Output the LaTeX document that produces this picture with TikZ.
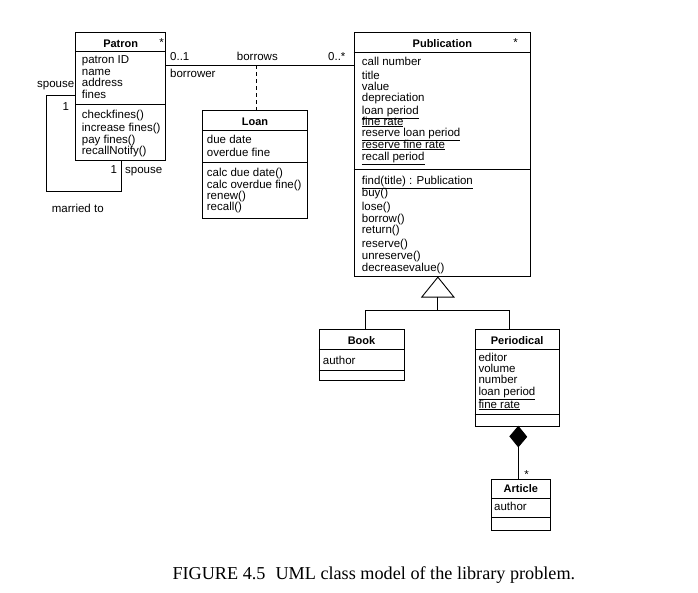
\documentclass[tikz,border=0pt]{standalone}
\usepackage{fontspec}
\setmainfont{Liberation Sans}
\newfontfamily\capfont{Liberation Serif}
\newcommand\umlfont{\fontsize{11.5}{12}\selectfont}
\newcommand\umlbold{\fontsize{11}{12}\selectfont\bfseries}
\begin{document}
\begin{tikzpicture}[x=1pt,y=-1pt,
  cls/.style={draw, line width=0.9pt, inner sep=0pt},
  conn/.style={line width=0.9pt},
  lbl/.style={anchor=base west, inner sep=0pt, font=\umlfont},
  hdr/.style={anchor=base, inner sep=0pt, font=\umlbold},
  mult/.style={anchor=base, inner sep=0pt, font=\umlfont}]
\useasboundingbox (0,0) rectangle (698,592);

% ---------- class boxes ----------
\node[cls, minimum width=90, minimum height=127.7] (patron) at (120.7,96.15) {};
\node[cls, minimum width=104.6, minimum height=107.6] (loan) at (255,164.5) {};
\node[cls, minimum width=176.7, minimum height=244.4] (pub) at (442.35,154.5) {};
\node[cls, minimum width=85, minimum height=51.4] (book) at (361.5,355) {};
\node[cls, minimum width=84.3, minimum height=96.7] (periodical) at (517.15,377.65) {};
\node[cls, minimum width=58.3, minimum height=51.7] (article) at (520.85,504.85) {};

% compartment separators
\foreach \b/\ya/\yb in {patron/51.7/104.3, loan/130/162.7, pub/52.3/169, book/349/370, periodical/349/414, article/498.3/517.7}{
  \coordinate (ha) at (0,\ya);
  \coordinate (hb) at (0,\yb);
  \draw[conn] (\b.west |- ha) -- (\b.east |- ha);
  \draw[conn] (\b.west |- hb) -- (\b.east |- hb);
}

% headers
\node[hdr] (hpatron) at (120.7,47.3) {Patron};
\node[hdr] (hloan) at (255,125.7) {Loan};
\node[hdr] (hpub) at (442.35,47.3) {Publication};
\node[hdr] (hbook) at (361.5,344) {Book};
\node[hdr] (hper) at (517.15,344) {Periodical};
\node[hdr] (hart) at (520.85,492.3) {Article};
\node[mult] (spa) at (161.7,46) {*};
\node[mult] (spb) at (515.7,46) {*};

% Patron
\foreach \y/\t [count=\i] in {59.3/patron ID, 71.5/name, 82.8/address, 94/fines}
  \node[lbl] (pa\i) at (81.7,\y+4) {\t};
\foreach \y/\t [count=\i] in {114.3/checkfines(), 127/increase fines(), 139/pay fines(), 150/recallNotify()}
  \node[lbl] (pm\i) at (81.7,\y+4) {\t};

% Loan
\foreach \y/\t [count=\i] in {139.3/due date, 152.3/overdue fine}
  \node[lbl] (la\i) at (206.7,\y+4) {\t};
\foreach \y/\t [count=\i] in {172.7/calc due date(), 184/calc overdue fine(), 195.7/renew(), 206.7/recall()}
  \node[lbl] (lm\i) at (206.7,\y+4) {\t};

% Publication
\foreach \y/\t [count=\i] in {61.7/call number, 75/title, 86/value, 97.3/depreciation,
  110/\underline{loan period}, 121/\underline{fine rate}, 132.3/\underline{reserve loan period},
  144/\underline{reserve fine rate}, 156/\underline{recall period}}
  \node[lbl] (ua\i) at (361.7,\y+4) {\t};
\foreach \y/\t [count=\i] in {180/\underline{find(title) : Publication}, 192.7/buy(), 206.7/lose(),
  218.3/borrow(), 229.3/return(), 243.3/reserve(), 255/unreserve(), 267.7/decreasevalue()}
  \node[lbl] (um\i) at (361.7,\y+4) {\t};

% Book
\node[lbl] (ba1) at (322.7,364) {author};

% Periodical
\foreach \y/\t [count=\i] in {357/editor, 368.3/volume, 379.5/number,
  391/\underline{loan period}, 404/\underline{fine rate}}
  \node[lbl] (ra\i) at (478.3,\y+4) {\t};

% Article
\node[lbl] (aa1) at (494,510) {author};

% ---------- association Patron -- Publication ----------
\coordinate (y65) at (0,65);
\draw[conn] (patron.east |- y65) -- (pub.west |- y65);
\node[lbl] (m01) at (170,60.7) {0..1};
\node[lbl] (rb) at (170,77) {borrower};
\node[lbl] (an) at (236.7,60.7) {borrows};
\node[lbl] (m0s) at (328,60.7) {0..*};
\coordinate (lk) at (256.7,65);
\draw[conn, dash pattern=on 4pt off 3pt] (lk) -- (lk |- loan.north);

% ---------- self association ----------
\coordinate (s1) at (46.7,95);
\coordinate (sb) at (121,191.7);
\draw[conn] (patron.west |- s1) -- (s1) |- (sb) -- (patron.south -| sb);
\node[lbl] (sp1) at (37,87) {spouse};
\node[lbl] (one1) at (62.5,110) {1};
\node[lbl] (one2) at (110.5,173) {1};
\node[lbl] (sp2) at (125,173) {spouse};
\node[lbl] (mt) at (51.7,212) {married to};

% ---------- generalization ----------
\coordinate (gx) at (437.85,296.7);
\coordinate (bk) at (365.7,310.7);
\coordinate (pk) at (509.3,310.7);
\draw[conn] (pub.south -| gx) -- ++(16.15,20) -- ++(-32.3,0) -- cycle;
\draw[conn] (gx) -- (gx |- bk);
\draw[conn] (book.north -| bk) -- (bk) -- (pk) -- (periodical.north -| pk);

% ---------- composition ----------
\coordinate (cx) at (518.3,446.7);
\draw[conn, fill=black] (periodical.south -| cx) -- ++(8.35,10.35) -- (cx) -- ++(-8.35,-10.35) -- cycle;
\draw[conn] (cx) -- (article.north -| cx);
\node[mult] (sc) at (526.7,478) {*};

% ---------- caption ----------
\node[anchor=base west, inner sep=0pt, font=\capfont\fontsize{18.2}{20}\selectfont] (cap) at (172.3,579.3)
  {FIGURE 4.5\hspace{0.55em}UML class model of the library problem.};
\end{tikzpicture}
\end{document}
